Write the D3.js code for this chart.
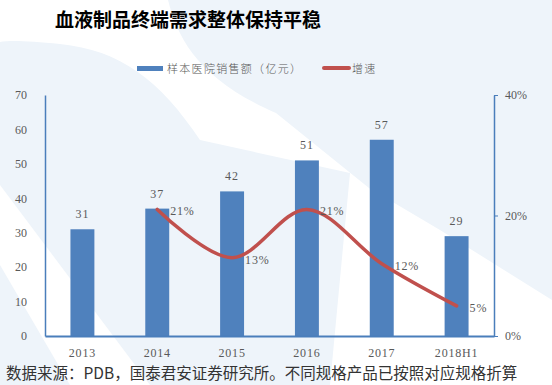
<!DOCTYPE html>
<html>
<head>
<meta charset="utf-8">
<script src="https://cdn.jsdelivr.net/npm/d3@7/dist/d3.min.js"></script>
<style>
  body { margin: 0; background: #fff; }
  svg { display: block; }
  .serif { font-family: "Liberation Serif", "DejaVu Serif", serif; fill: #595959; }
  .axis text { font-family: "Liberation Serif", "DejaVu Serif", serif; fill: #595959; font-size: 12px; }
  .axis path, .axis line { stroke: #4a7ebb; }
</style>
</head>
<body>
<svg id="chart" width="552" height="385"></svg>
<script>
  var categories = ['2013', '2014', '2015', '2016', '2017', '2018H1'];
  var sales = [31, 37, 42, 51, 57, 29];
  var growthCategories = ['2014', '2015', '2016', '2017', '2018H1'];
  var growth = [0.21, 0.13, 0.21, 0.12, 0.05];
  var leftTicks = [0, 10, 20, 30, 40, 50, 60, 70];
  var rightTicks = [0, 0.2, 0.4];

  var svg = d3.select('#chart');

  // background decoration
  var bg = svg.append('g').attr('class', 'bg');
  bg.append('rect').attr('width', 552).attr('height', 385).attr('fill', '#eef4fa');
  bg.append('path')
    .attr('fill', '#ffffff')
    .attr('d', 'M0,0 L168,0 C178,40 200,80 276,113 L369,188 L440,230 L552,300 L552,385 L330,385 L350,173 L200,140 C160,80 120,50 60,44 C30,41 10,40 0,42 Z');
  bg.append('path')
    .attr('fill', '#ffffff')
    .attr('d', 'M0,185 L0,265 L70,385 L150,385 Z');

  var x = d3.scaleBand()
    .domain(categories)
    .range([45, 494])
    .paddingInner(0.68)
    .paddingOuter(0.34);

  var yLeft = d3.scaleLinear().domain([0, 70]).range([336, 95]);
  var yRight = d3.scaleLinear().domain([0, 0.4]).range([336, 95]);

  // title
  svg.append('text')
    .attr('x', 55)
    .attr('y', 27)
    .style('font-family', '"Noto Sans CJK SC", sans-serif')
    .style('font-weight', 'bold')
    .style('font-size', '19px')
    .style('fill', '#000')
    .text('血液制品终端需求整体保持平稳');

  // legend
  var legend = svg.append('g').attr('class', 'legend');
  legend.append('rect')
    .attr('x', 137).attr('y', 66).attr('width', 26).attr('height', 5)
    .attr('fill', '#4f81bd');
  legend.append('text')
    .attr('x', 167).attr('y', 73)
    .style('font-family', '"Noto Sans CJK SC", sans-serif')
    .style('font-weight', 300)
    .style('font-size', '11px')
    .style('letter-spacing', '1.3px')
    .style('fill', '#595959')
    .text('样本医院销售额（亿元）');
  legend.append('line')
    .attr('x1', 324).attr('y1', 68).attr('x2', 349).attr('y2', 68)
    .attr('stroke', '#c0504d')
    .attr('stroke-width', 4)
    .attr('stroke-linecap', 'round');
  legend.append('text')
    .attr('x', 352).attr('y', 73)
    .style('font-family', '"Noto Sans CJK SC", sans-serif')
    .style('font-weight', 300)
    .style('font-size', '11px')
    .style('letter-spacing', '1.3px')
    .style('fill', '#595959')
    .text('增速');

  // axes
  var leftAxis = svg.append('g')
    .attr('class', 'axis')
    .attr('transform', 'translate(45,0)')
    .call(d3.axisLeft(yLeft).tickValues(leftTicks).tickSize(0).tickPadding(18));
  leftAxis.select('.domain').attr('stroke-width', 1.5);

  var rightAxis = svg.append('g')
    .attr('class', 'axis')
    .attr('transform', 'translate(494,0)')
    .call(d3.axisRight(yRight).tickValues(rightTicks).tickFormat(d3.format('.0%')).tickSize(4).tickSizeOuter(0).tickPadding(7));
  rightAxis.select('.domain').attr('stroke-width', 1.5);

  // bars
  svg.append('g')
    .selectAll('rect')
    .data(sales)
    .enter().append('rect')
    .attr('x', function(d, i) { return x(categories[i]); })
    .attr('y', function(d) { return yLeft(d); })
    .attr('width', x.bandwidth())
    .attr('height', function(d) { return yLeft(0) - yLeft(d); })
    .attr('fill', '#4f81bd');

  var bottomAxis = svg.append('g')
    .attr('class', 'axis')
    .attr('transform', 'translate(0,336)')
    .call(d3.axisBottom(x).tickSize(0).tickPadding(12));
  bottomAxis.select('.domain').attr('stroke-width', 2);
  bottomAxis.selectAll('text').style('letter-spacing', '0.8px');

  svg.append('g')
    .selectAll('text')
    .data(sales)
    .enter().append('text')
    .attr('class', 'serif')
    .attr('x', function(d, i) { return x(categories[i]) + x.bandwidth() / 2; })
    .attr('y', function(d) { return yLeft(d) - 11; })
    .attr('text-anchor', 'middle')
    .style('font-size', '12px')
    .style('letter-spacing', '1px')
    .text(function(d) { return d; });

  // growth line
  var line = d3.line()
    .x(function(d, i) { return x(growthCategories[i]) + x.bandwidth() / 2; })
    .y(function(d) { return yRight(d); })
    .curve(d3.curveCatmullRom.alpha(0.5));

  svg.append('path')
    .datum(growth)
    .attr('d', line)
    .attr('fill', 'none')
    .attr('stroke', '#c0504d')
    .attr('stroke-width', 3.5)
    .attr('stroke-linecap', 'round');

  svg.append('g')
    .selectAll('text')
    .data(growth)
    .enter().append('text')
    .attr('class', 'serif')
    .attr('x', function(d, i) { return x(growthCategories[i]) + x.bandwidth() / 2 + 13; })
    .attr('y', function(d) { return yRight(d) + 6; })
    .style('font-size', '12px')
    .style('letter-spacing', '0.8px')
    .text(function(d) { return d3.format('.0%')(d); });

  // source note
  svg.append('text')
    .attr('x', 6)
    .attr('y', 379)
    .style('font-family', '"Noto Sans CJK SC", sans-serif')
    .style('font-size', '15.5px')
    .style('fill', '#333')
    .text('数据来源：PDB，国泰君安证券研究所。不同规格产品已按照对应规格折算');
</script>
</body>
</html>
